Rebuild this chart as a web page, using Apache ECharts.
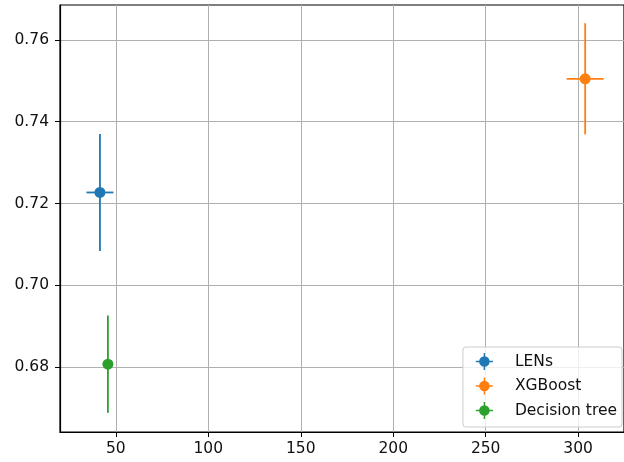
<!DOCTYPE html>
<html>
<head>
<meta charset="utf-8">
<script src="https://cdn.jsdelivr.net/npm/echarts@6/dist/echarts.min.js"></script>
<style>html,body{margin:0;padding:0;background:#fff;}#c{width:624px;height:462px;}</style>
</head>
<body>
<div id="c"></div>
<script>
const models = ['LENs', 'XGBoost', 'Decision tree'];
const colors = ['#1f77b4', '#ff7f0e', '#2ca02c'];
const xValues = [41.4, 303.8, 45.7];
const yValues = [0.7227, 0.7505, 0.6807];
const xErrors = [7.3, 10.0, 0.8];
const yErrors = [0.0143, 0.0136, 0.0119];
const xTicks = [50, 100, 150, 200, 250, 300];
const yTicks = [0.68, 0.70, 0.72, 0.74, 0.76];

const chart = echarts.init(document.getElementById('c'));
const font = 'DejaVu Sans';
const fs = 15.5;
const iconPath = 'path://M0,9.15 L20,9.15 L20,10.85 L0,10.85 Z M9.15,0 L10.85,0 L10.85,20 L9.15,20 Z M10,3.8 A6.2,6.2 0 1 1 9.99,3.8 Z';

const series = [];
models.forEach((m, i) => {
  series.push({
    type: 'custom',
    name: m + '_err',
    silent: true,
    z: 3,
    data: [[xValues[i], yValues[i], xErrors[i], yErrors[i]]],
    renderItem: function (params, api) {
      const x = api.value(0), y = api.value(1), ex = api.value(2), ey = api.value(3);
      const pL = api.coord([x - ex, y]);
      const pR = api.coord([x + ex, y]);
      const pT = api.coord([x, y + ey]);
      const pB = api.coord([x, y - ey]);
      const st = { stroke: colors[i], lineWidth: 1.8 };
      return {
        type: 'group',
        children: [
          { type: 'line', shape: { x1: pL[0], y1: pL[1], x2: pR[0], y2: pR[1] }, style: st },
          { type: 'line', shape: { x1: pT[0], y1: pT[1], x2: pB[0], y2: pB[1] }, style: st }
        ]
      };
    }
  });
  series.push({
    type: 'scatter',
    name: m,
    z: 4,
    symbol: 'circle',
    symbolSize: 11,
    itemStyle: { color: colors[i], opacity: 1 },
    data: [[xValues[i], yValues[i]]]
  });
});

chart.setOption({
  animation: false,
  backgroundColor: '#fff',
  textStyle: { fontFamily: font },
  grid: { left: 60, top: 5, width: 566, height: 427, show: true, borderColor: '#000', borderWidth: 1.2, backgroundColor: 'transparent' },
  xAxis: {
    type: 'value',
    min: 19.8,
    max: 324.8,
    axisLine: { show: true, lineStyle: { color: '#000', width: 1.2 } },
    axisTick: { show: true, inside: false, length: 5, lineStyle: { color: '#000' }, customValues: xTicks },
    axisLabel: { color: '#111', fontSize: fs, fontFamily: font, margin: 9, customValues: xTicks, formatter: v => String(v) },
    splitLine: { show: true, lineStyle: { color: '#b0b0b0', width: 1 } }
  },
  yAxis: {
    type: 'value',
    min: 0.6641,
    max: 0.76856,
    axisLine: { show: true, lineStyle: { color: '#000', width: 1.2 } },
    axisTick: { show: true, inside: false, length: 5, lineStyle: { color: '#000' }, customValues: yTicks },
    axisLabel: { color: '#111', fontSize: fs, fontFamily: font, margin: 11, customValues: yTicks, formatter: v => v.toFixed(2) },
    splitLine: { show: true, lineStyle: { color: '#b0b0b0', width: 1 } }
  },
  legend: {
    data: models.map((m, i) => ({ name: m, icon: iconPath, itemStyle: { color: colors[i] } })),
    orient: 'vertical',
    right: 2,
    bottom: 35,
    itemWidth: 17,
    itemHeight: 17,
    itemGap: 7.5,
    itemTextGap: 5,
    padding: [6, 5, 8, 13],
    backgroundColor: 'rgba(255,255,255,0.8)',
    borderColor: '#cccccc',
    borderWidth: 1,
    borderRadius: 3,
    textStyle: { fontSize: fs, fontFamily: font, color: '#111', padding: [0, 0, 0, 17] },
    selectedMode: false
  },
  series: series
});
</script>
</body>
</html>
